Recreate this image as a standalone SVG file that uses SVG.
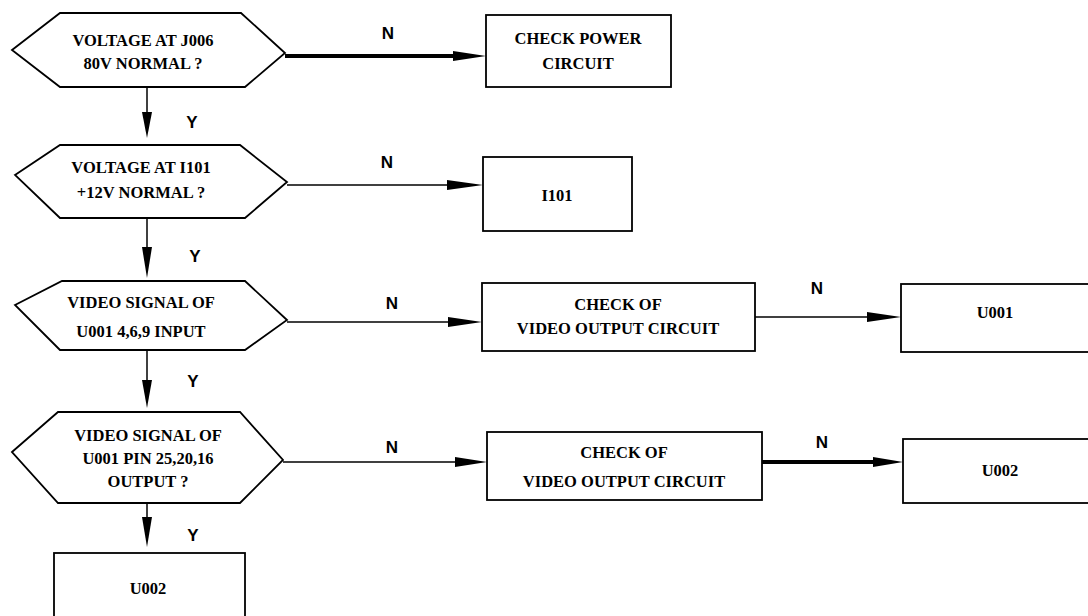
<svg xmlns="http://www.w3.org/2000/svg" width="1088" height="616" viewBox="0 0 1088 616">
<style>
.shape{fill:#fff;stroke:#000;stroke-width:1.8}
.t{font-family:"Liberation Serif",serif;font-weight:bold;font-size:16.5px;fill:#000;text-anchor:middle;dominant-baseline:central}
.lbl{font-family:"Liberation Sans",Arial,sans-serif;font-weight:bold;font-size:17px;fill:#000;text-anchor:middle;dominant-baseline:central}
.ln{stroke:#000;stroke-width:1.5;fill:none}
.thick{stroke-width:4}
.ah{fill:#000;stroke:none}
</style>
<rect width="1088" height="616" fill="#fff"/>
<g id="q1">
<polygon class="shape" points="12,50 60,13 241,13 285,53 245,87 60,87"/>
<text class="t" x="143" y="40">VOLTAGE AT J006</text>
<text class="t" x="143" y="63">80V NORMAL ?</text>
</g>
<g id="q2">
<polygon class="shape" points="15,175 60,145 240,145 287,182 245,218 60,218"/>
<text class="t" x="141" y="167">VOLTAGE AT I101</text>
<text class="t" x="141" y="192">+12V NORMAL ?</text>
</g>
<g id="q3">
<polygon class="shape" points="15,305 62,281 245,281 287,320 245,350 60,350"/>
<text class="t" x="141" y="302">VIDEO SIGNAL OF</text>
<text class="t" x="141" y="331">U001 4,6,9 INPUT</text>
</g>
<g id="q4">
<polygon class="shape" points="12,452 58,412 240,412 283,460 240,503 58,503"/>
<text class="t" x="148" y="435">VIDEO SIGNAL OF</text>
<text class="t" x="148" y="458">U001 PIN 25,20,16</text>
<text class="t" x="148" y="481">OUTPUT ?</text>
</g>
<g id="b1">
<rect class="shape" x="486" y="15" width="185" height="72"/>
<text class="t" x="578" y="38">CHECK POWER</text>
<text class="t" x="578" y="63">CIRCUIT</text>
</g>
<g id="b2">
<rect class="shape" x="483" y="157" width="149" height="74"/>
<text class="t" x="557" y="195">I101</text>
</g>
<g id="b3">
<rect class="shape" x="482" y="283" width="273" height="68"/>
<text class="t" x="618" y="304">CHECK OF</text>
<text class="t" x="618" y="328">VIDEO OUTPUT CIRCUIT</text>
</g>
<g id="b4">
<rect class="shape" x="901" y="284" width="200" height="68"/>
<text class="t" x="995" y="312">U001</text>
</g>
<g id="b5">
<rect class="shape" x="487" y="432" width="275" height="68"/>
<text class="t" x="624" y="452">CHECK OF</text>
<text class="t" x="624" y="481">VIDEO OUTPUT CIRCUIT</text>
</g>
<g id="b6">
<rect class="shape" x="903" y="439" width="200" height="64"/>
<text class="t" x="1000" y="470">U002</text>
</g>
<g id="b7">
<rect class="shape" x="54" y="553" width="191" height="80"/>
<text class="t" x="148" y="588">U002</text>
</g>
<g id="connectors">
<line class="ln" x1="147" y1="87" x2="147" y2="120"/>
<polygon class="ah" points="142,112 152,112 147,138"/>
<text class="lbl" x="192" y="122">Y</text>
<line class="ln" x1="147" y1="218" x2="147" y2="255"/>
<polygon class="ah" points="142,247 152,247 147,278"/>
<text class="lbl" x="195" y="256">Y</text>
<line class="ln" x1="147" y1="350" x2="147" y2="390"/>
<polygon class="ah" points="142,380 152,380 147,408"/>
<text class="lbl" x="193" y="381">Y</text>
<line class="ln" x1="147" y1="503" x2="147" y2="525"/>
<polygon class="ah" points="142,517 152,517 147,547"/>
<text class="lbl" x="193" y="535">Y</text>

<line class="ln thick" x1="285" y1="56" x2="460" y2="56"/>
<polygon class="ah" points="453,51 486,56 453,61"/>
<text class="lbl" x="388" y="33">N</text>
<line class="ln" x1="287" y1="185" x2="455" y2="185"/>
<polygon class="ah" points="447,180 483,185 447,190"/>
<text class="lbl" x="387" y="162">N</text>
<line class="ln" x1="287" y1="322" x2="455" y2="322"/>
<polygon class="ah" points="448,317 482,322 448,327"/>
<text class="lbl" x="392" y="303">N</text>
<line class="ln" x1="755" y1="317" x2="875" y2="317"/>
<polygon class="ah" points="867,312 901,317 867,322"/>
<text class="lbl" x="817" y="288">N</text>
<line class="ln" x1="283" y1="462" x2="462" y2="462"/>
<polygon class="ah" points="455,457 487,462 455,467"/>
<text class="lbl" x="392" y="447">N</text>
<line class="ln thick" x1="762" y1="462" x2="880" y2="462"/>
<polygon class="ah" points="873,457 903,462 873,467"/>
<text class="lbl" x="822" y="442">N</text>
</g>
</svg>
